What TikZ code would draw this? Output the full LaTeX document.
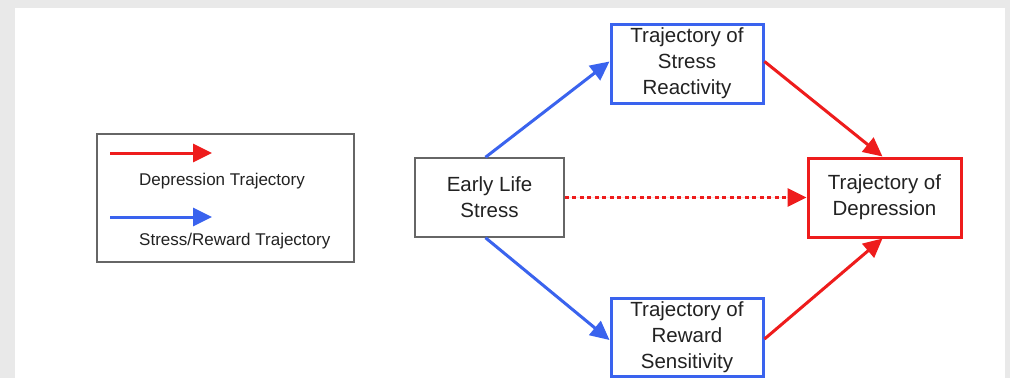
\documentclass[tikz,border=0pt]{standalone}
\usepackage{fontspec}
\setmainfont{Liberation Sans}
\usetikzlibrary{arrows.meta}
\definecolor{myred}{HTML}{EE1C1C}
\definecolor{myblue}{HTML}{3A63EE}
\definecolor{txt}{HTML}{222222}
\definecolor{bg}{HTML}{E9E9E9}
\tikzset{
  box/.style={draw, line width=3pt, minimum width=#1, minimum height=79pt, inner sep=0pt, align=center,
    text=txt, font=\fontsize{20.5}{26}\selectfont},
  redbox/.style={box=153pt, draw=myred},
  bluebox/.style={box=152pt, draw=myblue},
  graybox/.style={box=149pt, draw=gray!80!black, line width=1.5pt},
  tip/.style={-{Triangle[length=19pt,width=18pt]}},
  redarrow/.style={tip, draw=myred, fill=myred, line width=3pt},
  bluearrow/.style={tip, draw=myblue, fill=myblue, line width=3pt},
  legtext/.style={anchor=west, text=txt, font=\fontsize{17}{18}\selectfont, inner sep=0pt}
}
\begin{document}
\begin{tikzpicture}[x=1pt,y=-1pt]
\useasboundingbox (0,0) rectangle (1010,378);
\fill[bg] (0,0) rectangle (1010,378);
\fill[white] (15,8) rectangle (1005,378);

% legend
\node[draw=gray!80!black, line width=1.2pt, minimum width=257pt, minimum height=128pt, inner sep=0pt] (legend) at (225.5,198) {};
\coordinate (r1) at (110,153);
\coordinate (r2) at (212,153);
\coordinate (b1) at (110,217);
\coordinate (b2) at (212,217);
\draw[redarrow] (r1) -- (r2);
\draw[bluearrow] (b1) -- (b2);
\node[legtext] (lt1) at (139,181) {Depression Trajectory};
\node[legtext] (lt2) at (139,241) {Stress/Reward Trajectory};

% nodes
\node[graybox] (els) at (489.5,197.5) {Early Life\\Stress};
\node[bluebox] (tsr) at (687,63.5) {Trajectory of\\Stress\\Reactivity};
\node[bluebox, minimum height=78pt] (trs) at (687,337) {Trajectory of\\Reward\\Sensitivity};
\node[redbox] (tod) at (884.5,197.5) {Trajectory of\\Depression};

% connectors
\draw[bluearrow] ([xshift=-4pt]els.north) -- ([yshift=2pt]tsr.west);
\draw[bluearrow] ([xshift=-4pt]els.south) -- ([yshift=-3pt]trs.west);
\draw[redarrow] ([yshift=2pt]tsr.east) -- ([xshift=-2pt]tod.north);
\draw[redarrow] ([yshift=-2pt]trs.east) -- ([xshift=-2pt]tod.south);
\draw[redarrow, dash pattern=on 4pt off 3.5pt] (els.east) -- (tod.west);
\end{tikzpicture}
\end{document}
